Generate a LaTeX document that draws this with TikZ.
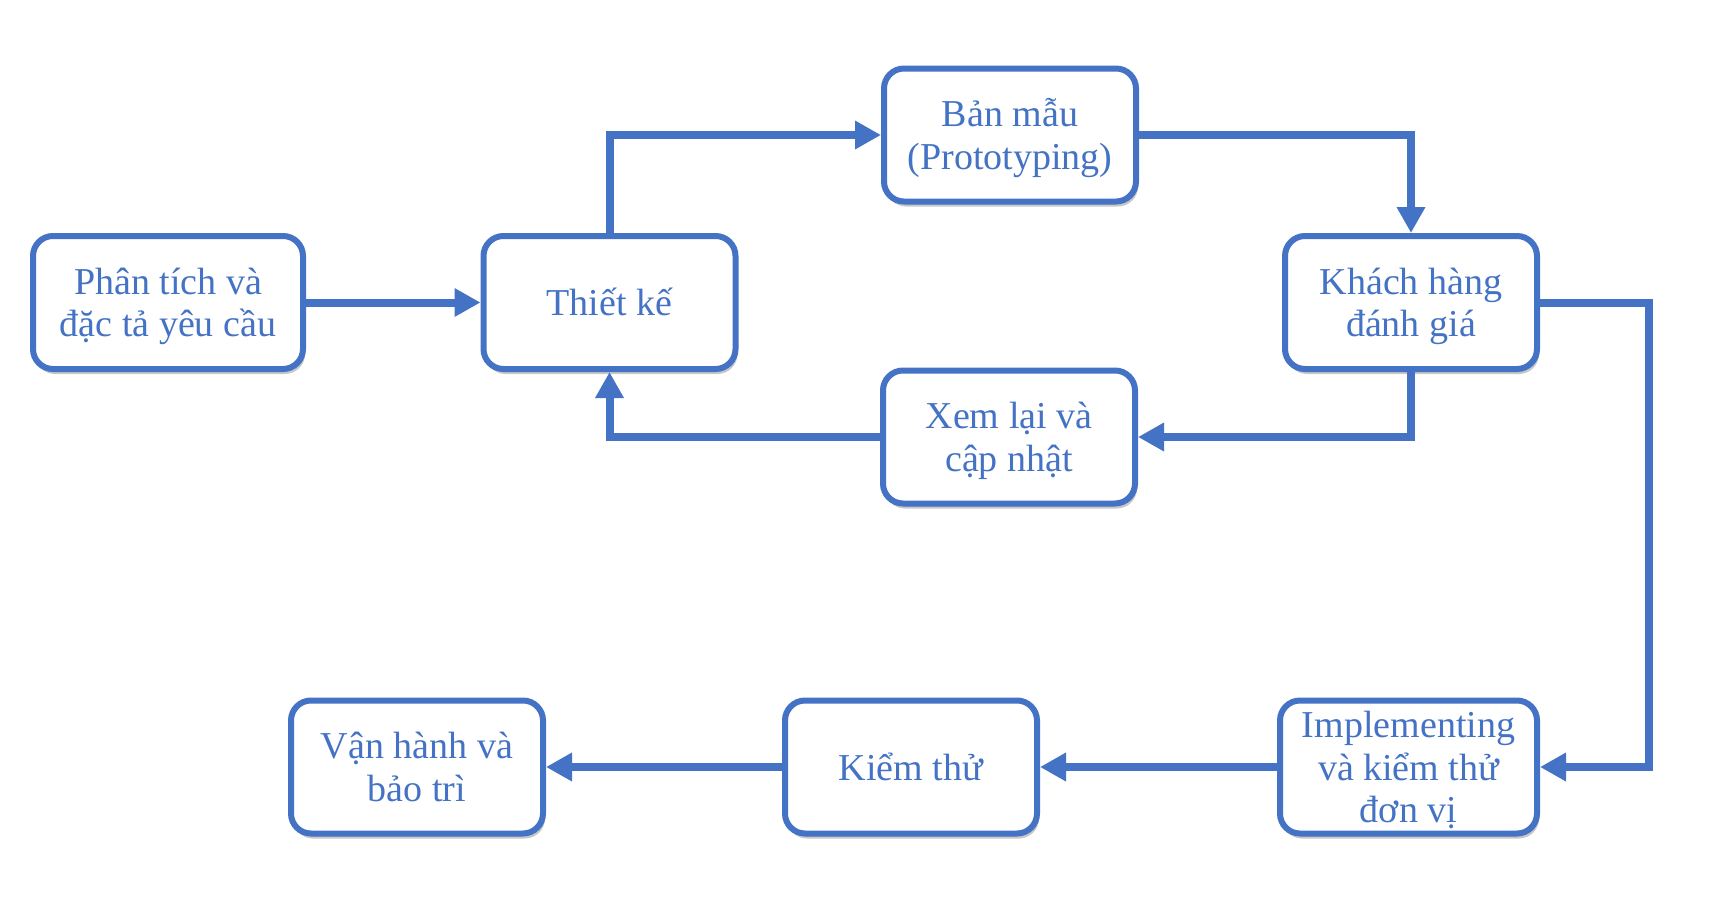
\documentclass[tikz,border=0pt]{standalone}
\usepackage{fontspec}
\setmainfont{Liberation Serif}
\usetikzlibrary{arrows.meta,shadows}
\definecolor{oblue}{HTML}{4472C4}
\newcommand{\lowtxt}[1]{\raisebox{-4.5pt}[\height][\depth]{\begin{tabular}{@{}c@{}}#1\end{tabular}}}
\tikzset{
  stepbox/.style={draw=oblue, line width=6pt, rounded corners=20pt, fill=white,
    text=oblue, align=center, minimum height=133pt, minimum width=252pt,
    inner sep=2pt, font=\fontsize{38}{42.7}\selectfont,
    drop shadow={shadow xshift=2pt, shadow yshift=-5pt, fill=black, opacity=0.22}},
  conn/.style={draw=oblue, line width=8pt, -{Triangle[length=26pt,width=27pt]}}
}
\begin{document}
\begin{tikzpicture}[x=1pt,y=-1pt]
\useasboundingbox (0,0) rectangle (1733,918);
\node[stepbox, minimum width=270pt] (A) at (168,302.5) {\lowtxt{Phân tích và\\đặc tả yêu cầu}};
\node[stepbox] (B) at (609.5,302.5) {\lowtxt{Thiết kế}};
\node[stepbox] (C) at (1010,135) {\lowtxt{Bản mẫu\\(Prototyping)}};
\node[stepbox] (D) at (1411,302.5) {\lowtxt{Khách hàng\\đánh giá}};
\node[stepbox] (E) at (1009,437) {\lowtxt{Xem lại và\\cập nhật}};
\node[stepbox] (F) at (417,767) {\lowtxt{Vận hành và\\bảo trì}};
\node[stepbox] (G) at (911,767) {\lowtxt{Kiểm thử}};
\node[stepbox, minimum width=257pt] (H) at (1408.5,767) {\lowtxt{Implementing\\và kiểm thử\\đơn vị}};
\coordinate (R) at (1649,302.5);
\draw[conn] (A.east) -- (B.west);
\draw[conn] (B.north) |- (C.west);
\draw[conn] (C.east) -| (D.north);
\draw[conn] (D.south) |- (E.east);
\draw[conn] (E.west) -| (B.south);
\draw[conn] (D.east) -- (R) |- (H.east);
\draw[conn] (H.west) -- (G.east);
\draw[conn] (G.west) -- (F.east);
\end{tikzpicture}
\end{document}
